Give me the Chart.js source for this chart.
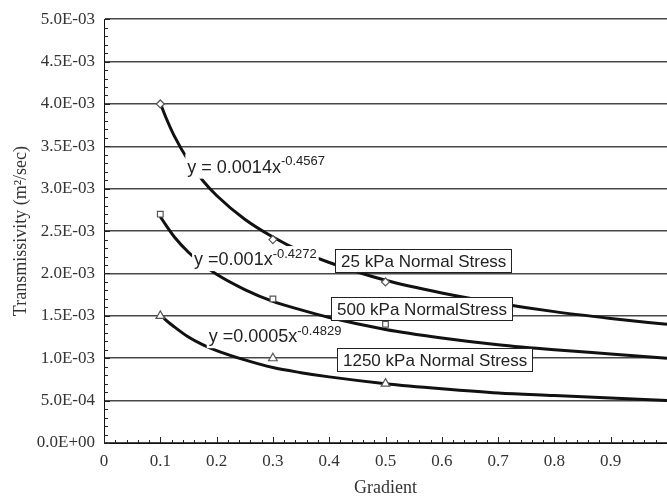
<!DOCTYPE html>
<html>
<head>
<meta charset="utf-8">
<script src="https://cdn.jsdelivr.net/npm/chart.js@4.4.1/dist/chart.umd.min.js"></script>
<style>
html, body { margin: 0; padding: 0; background: #fff; }
</style>
</head>
<body>
<canvas id="chart" width="667" height="497"></canvas>
<script>
// measured points
var gradient = [0.1, 0.3, 0.5];
var stress25 = [0.0040, 0.0024, 0.0019];
var stress500 = [0.0027, 0.0017, 0.0014];
var stress1250 = [0.0015, 0.0010, 0.0007];

// power trendlines
var fitGradient = [0.1, 0.11, 0.125, 0.15, 0.175, 0.2, 0.25, 0.3, 0.35, 0.4, 0.5, 0.6, 0.7, 0.8, 0.9, 1.0];
var fit25 = [0.00401, 0.00384, 0.00362, 0.00333, 0.00310, 0.00292, 0.00264, 0.00243, 0.00226, 0.00213, 0.00192, 0.00177, 0.00165, 0.00155, 0.00147, 0.00140];
var fit500 = [0.00267, 0.00257, 0.00243, 0.00225, 0.00211, 0.00199, 0.00181, 0.00167, 0.00157, 0.00148, 0.00134, 0.00124, 0.00116, 0.00110, 0.00105, 0.00100];
var fit1250 = [0.00152, 0.00145, 0.00137, 0.00125, 0.00116, 0.00109, 0.00098, 0.00089, 0.00083, 0.00078, 0.00070, 0.00064, 0.00059, 0.00056, 0.00053, 0.00050];

var seriesNames = ['25 kPa Normal Stress', '500 kPa NormalStress', '1250 kPa Normal Stress'];
var fitEquations = ['y = 0.0014x', 'y =0.001x', 'y =0.0005x'];
var fitExponents = ['-0.4567', '-0.4272', '-0.4829'];

// where the text boxes sit, in axis units
var eqAtX = [0.148, 0.160, 0.186];
var eqAtY = [0.00326, 0.00217, 0.00126];
var boxAtX = [0.411, 0.404, 0.413];
var boxAtY = [0.00215, 0.001585, 0.00098];

var serif = '"Liberation Serif", "Times New Roman", serif';
var sans = '"Liberation Sans", Arial, sans-serif';

function pts(xs, ys) {
  return xs.map(function (x, i) { return { x: x, y: ys[i] }; });
}

function sci(v) {
  if (Math.abs(v) < 1e-12) return '0.0E+00';
  var e = Math.floor(Math.log10(Math.abs(v)) + 1e-9);
  var m = v / Math.pow(10, e);
  var ea = Math.abs(e);
  return m.toFixed(1) + 'E' + (e < 0 ? '-' : '+') + (ea < 10 ? '0' : '') + ea;
}

var minorTicks = {
  id: 'minorTicks',
  afterDraw: function (chart) {
    var ctx = chart.ctx, xs = chart.scales.x, ys = chart.scales.y, a = chart.chartArea;
    ctx.save();
    ctx.strokeStyle = '#222';
    ctx.lineWidth = 1;
    ctx.beginPath();
    for (var i = 0; i <= 50; i++) {
      var py = Math.round(ys.getPixelForValue(i * 0.0001)) + 0.5;
      var len = i % 5 === 0 ? 6 : 4;
      ctx.moveTo(a.left, py);
      ctx.lineTo(a.left + len, py);
    }
    for (var j = 0; j <= 50; j++) {
      var px = Math.round(xs.getPixelForValue(j * 0.02)) + 0.5;
      var l2 = j % 5 === 0 ? 6 : 3;
      ctx.moveTo(px, a.bottom);
      ctx.lineTo(px, a.bottom - l2);
    }
    ctx.stroke();
    ctx.restore();
  }
};

var labels = {
  id: 'labels',
  afterDatasetsDraw: function (chart) {
    var ctx = chart.ctx, xs = chart.scales.x, ys = chart.scales.y;
    ctx.save();
    ctx.textBaseline = 'middle';
    ctx.textAlign = 'left';
    for (var i = 0; i < seriesNames.length; i++) {
      // trendline equation
      var x0 = xs.getPixelForValue(eqAtX[i]), y0 = ys.getPixelForValue(eqAtY[i]);
      ctx.font = '18px ' + sans;
      var w1 = ctx.measureText(fitEquations[i]).width;
      ctx.font = '13px ' + sans;
      var w2 = ctx.measureText(fitExponents[i]).width;
      ctx.fillStyle = '#fff';
      ctx.fillRect(x0 - 2, y0 - 13, w1 + w2 + 4, 25);
      ctx.fillStyle = '#222';
      ctx.font = '18px ' + sans;
      ctx.fillText(fitEquations[i], x0, y0 + 1);
      ctx.font = '13px ' + sans;
      ctx.fillText(fitExponents[i], x0 + w1, y0 - 5);

      // boxed series name
      ctx.font = '17px ' + sans;
      var tw = ctx.measureText(seriesNames[i]).width;
      var bx = Math.round(xs.getPixelForValue(boxAtX[i])) + 0.5;
      var by = Math.round(ys.getPixelForValue(boxAtY[i]));
      var bw = Math.round(tw + 11), bh = 23;
      ctx.fillStyle = '#fff';
      ctx.fillRect(bx, by - bh / 2, bw, bh);
      ctx.strokeStyle = '#222';
      ctx.lineWidth = 1;
      ctx.strokeRect(bx, by - bh / 2, bw, bh);
      ctx.fillStyle = '#222';
      ctx.fillText(seriesNames[i], bx + 5.5, by + 1);
    }
    ctx.restore();
  }
};

function marks(ys, style, r) {
  return {
    data: pts(gradient, ys),
    showLine: false,
    pointStyle: style,
    pointRadius: r,
    pointBorderColor: '#555',
    pointBackgroundColor: '#fff',
    pointBorderWidth: 1.2,
    order: 1
  };
}

function trend(ys) {
  return {
    data: pts(fitGradient, ys),
    showLine: true,
    pointRadius: 0,
    borderColor: '#111',
    borderWidth: 3,
    cubicInterpolationMode: 'monotone',
    fill: false,
    order: 2
  };
}

var context = document.getElementById('chart').getContext('2d');
var chart = new Chart(context, {
  type: 'scatter',
  data: {
    datasets: [
      trend(fit25), trend(fit500), trend(fit1250),
      marks(stress25, 'rectRot', 4), marks(stress500, 'rect', 4), marks(stress1250, 'triangle', 5)
    ]
  },
  options: {
    responsive: false,
    animation: false,
    layout: { autoPadding: false, padding: { top: 14, right: 0, bottom: 0, left: 0 } },
    plugins: { legend: { display: false }, tooltip: { enabled: false } },
    scales: {
      x: {
        type: 'linear', min: 0, max: 1,
        afterFit: function (s) { s.height = 54; s.paddingLeft = 0; s.paddingRight = 0; },
        border: { color: '#111', width: 1 },
        grid: { drawOnChartArea: false, drawTicks: false },
        ticks: {
          stepSize: 0.1, padding: 8, autoSkip: false, maxRotation: 0, color: '#333',
          font: { family: serif, size: 17 },
          callback: function (v) { return v > 0.999 ? '' : (v === 0 ? '0' : v.toFixed(1)); }
        },
        title: { display: true, text: 'Gradient', color: '#333', font: { family: serif, size: 18, lineHeight: 1 }, padding: 0 }
      },
      y: {
        min: 0, max: 0.005,
        afterFit: function (s) { s.width = 104; },
        border: { color: '#111', width: 1 },
        grid: { color: '#484848', lineWidth: 1.5, drawTicks: false },
        ticks: {
          stepSize: 0.0005, padding: 9, color: '#333',
          font: { family: serif, size: 17 },
          callback: sci
        },
        title: { display: true, text: 'Transmissivity (m²/sec)', color: '#333', font: { family: serif, size: 18, lineHeight: 1 }, padding: { top: 12, bottom: 0 } }
      }
    }
  },
  plugins: [minorTicks, labels]
});
</script>
</body>
</html>
